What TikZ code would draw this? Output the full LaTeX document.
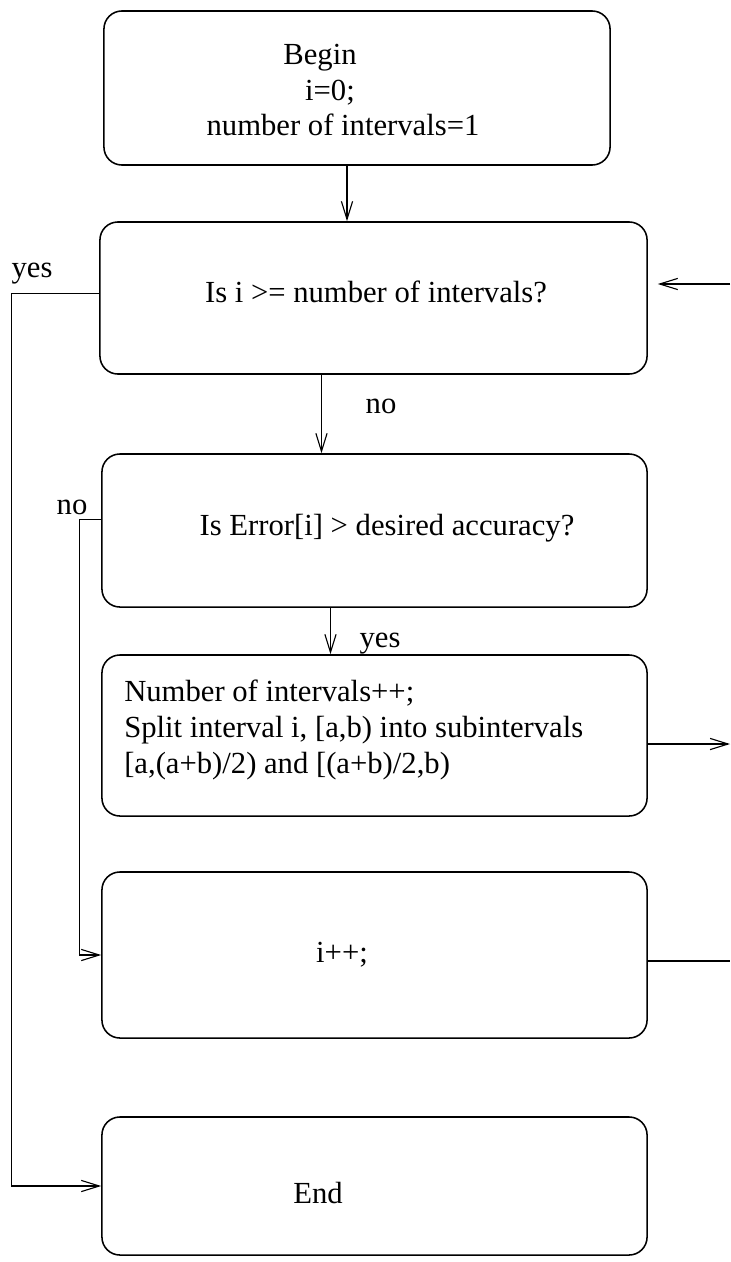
\documentclass[tikz,border=0pt]{standalone}
\usepackage{fontspec}
\setmainfont{Liberation Serif}
\usetikzlibrary{arrows.meta,calc}
\tikzset{block/.style={draw,line width=1.1pt,rounded corners=0.45cm},
  lbl/.style={font=\fontsize{21.8}{25.6}\selectfont},
  link/.style={line width=0.8pt},
  arr/.style={link,-{Straight Barb[length=0.45cm,width=0.28cm]}}}

\begin{document}
\begin{tikzpicture}[x=0.025cm,y=-0.025cm]
\useasboundingbox (0,0) rectangle (730,1262);

% boxes
\node[block,minimum width=12.65cm,minimum height=3.85cm] (begin) at (357,88) {};
\node[block,minimum width=13.675cm,minimum height=3.8cm] (test) at (373.5,298) {};
\node[block,minimum width=13.625cm,minimum height=3.825cm] (err) at (374.5,530.5) {};
\node[block,minimum width=13.625cm,minimum height=4.025cm] (split) at (374.5,735.5) {};
\node[block,minimum width=13.625cm,minimum height=4.15cm] (incr) at (374.5,955) {};
\node[block,minimum width=13.625cm,minimum height=3.45cm] (end) at (374.5,1186) {};

% texts
\node[lbl,align=center] (begintxt) at (343,90)
  {\hspace*{-1.15cm}Begin\\ \hspace*{-0.65cm}i=0;\\ number of intervals=1};
\node[lbl,anchor=base] (testtxt) at (376,302) {Is i >= number of intervals?};
\node[lbl,anchor=base] (errtxt) at (387,535) {Is Error[i] > desired accuracy?};
\node[lbl,align=left,anchor=west,inner sep=0pt] (splittxt) at (124,730)
  {Number of intervals++;\\ Split interval i, [a,b) into subintervals\\ {[}a,(a+b)/2) and [(a+b)/2,b)};
\node[lbl,anchor=base] (incrtxt) at (342,962) {i++;};
\node[lbl,anchor=base] (endtxt) at (318,1203) {End};

\node[lbl,anchor=base] (yes1) at (32,277) {yes};
\node[lbl,anchor=base] (no1) at (381,413) {no};
\node[lbl,anchor=base] (no2) at (72,514) {no};
\node[lbl,anchor=base] (yes2) at (380,647) {yes};

% connectors
\coordinate (in2) at (730,284);
\coordinate (out4) at (730,744);
\coordinate (out5) at (730,961);

\draw[arr] ([xshift=-0.25cm]begin.south) -- ([xshift=-0.25cm]begin.south |- test.north);
\draw[arr] ([xshift=-1.3cm]test.south) -- ([xshift=-1.3cm]test.south |- err.north);
\draw[arr] ([xshift=-1.1cm]err.south) -- ([xshift=-1.1cm]err.south |- split.north);

\draw[arr] ([yshift=0.12cm]test.west) -- ++(-88,0) |- (end.west);
\draw[arr] ([yshift=0.28cm]err.west) -- ++(-22,0) |- (incr.west);

\draw[arr] (in2) -- ([xshift=0.25cm]test.east |- in2);
\draw[arr] (split.east |- out4) -- (out4);
\draw[link] (incr.east |- out5) -- (out5);

\end{tikzpicture}
\end{document}
